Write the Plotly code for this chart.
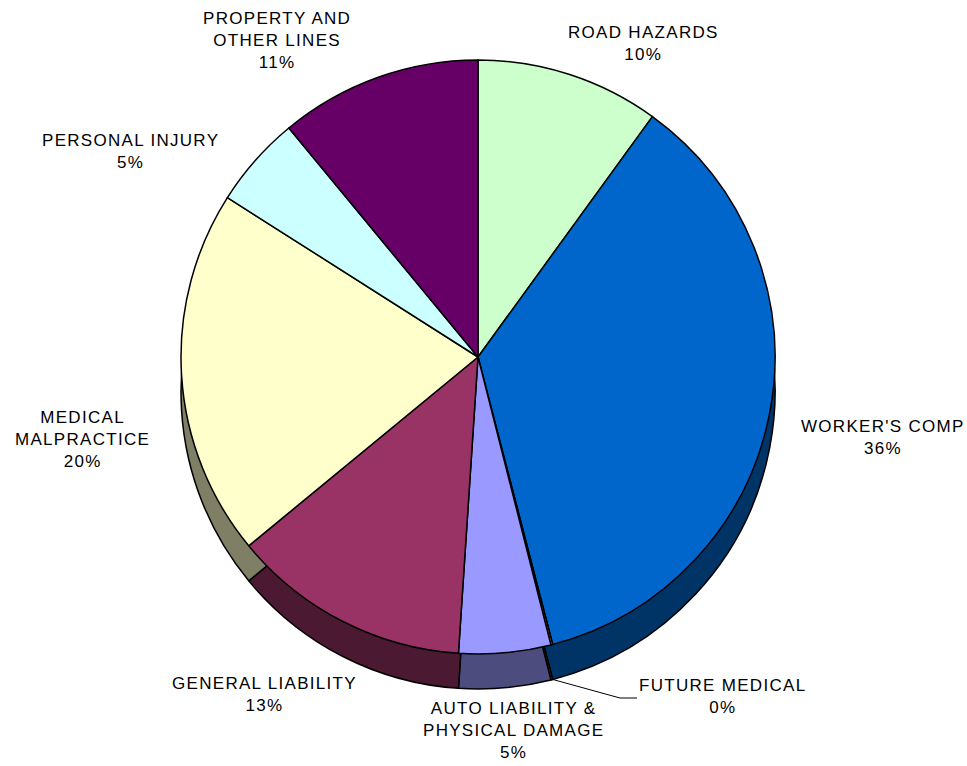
import math
import plotly.graph_objects as go

# ---- data ----
categories = ["ROAD HAZARDS", "WORKER'S COMP", "FUTURE MEDICAL",
              "AUTO LIABILITY &<br>PHYSICAL DAMAGE", "GENERAL LIABILITY",
              "MEDICAL<br>MALPRACTICE", "PERSONAL INJURY",
              "PROPERTY AND<br>OTHER LINES"]
values = [10, 36, 0.1, 5, 13, 20, 5, 11]
pct_labels = ["10%", "36%", "0%", "5%", "13%", "20%", "5%", "11%"]

# ---- styles ----
colors = ["#CCFFCC", "#0066CC", "#FF8080", "#9999FF", "#993366",
          "#FFFFCC", "#CCFFFF", "#660066"]


def darken(h):
    h = h.lstrip("#")
    r, g, b = (int(h[i:i + 2], 16) // 2 for i in (0, 2, 4))
    return f"#{r:02X}{g:02X}{b:02X}"


dark_colors = [darken(c) for c in colors]

W, H = 967, 766
cx, cy, R, depth = 478, 357, 297, 35


def dom(cy_):
    return dict(x=[(cx - R) / W, (cx + R) / W],
                y=[1 - (cy_ + R) / H, 1 - (cy_ - R) / H])


fig = go.Figure()
# side wall (3D depth)
fig.add_trace(go.Pie(values=values, labels=categories, sort=False,
                     direction="clockwise", rotation=0,
                     marker=dict(colors=dark_colors,
                                 line=dict(color="black", width=1.5)),
                     textinfo="none", hoverinfo="skip",
                     domain=dom(cy + depth), showlegend=False))
# top face
fig.add_trace(go.Pie(values=values, labels=categories, sort=False,
                     direction="clockwise", rotation=0,
                     marker=dict(colors=colors,
                                 line=dict(color="black", width=1.5)),
                     textinfo="none",
                     domain=dom(cy), showlegend=False))

# label positions (pixel centers)
label_pos = [(643, 43), (883, 437), (722, 696), (513, 730),
             (264, 694), (82, 439), (130, 151), (277, 40)]


def spaced(t):
    return "<br>".join(f'<span style="letter-spacing:1.3px">{p}</span>'
                       for p in t.split("<br>"))


for cat, pct, (px, py) in zip(categories, pct_labels, label_pos):
    fig.add_annotation(x=px / W, y=1 - py / H, xref="paper", yref="paper",
                       text=spaced(f"{cat}<br>{pct}"), showarrow=False,
                       xanchor="center", yanchor="middle", align="center",
                       font=dict(family="Liberation Sans, Arial, sans-serif",
                                 size=17, color="black"))

# leader line for the tiny slice (starts at bottom of the wall at its edge)
ang = 2 * math.pi * (values[0] + values[1]) / sum(values)
sx = cx + R * math.sin(ang)
sy = cy - R * math.cos(ang) + depth
fig.add_shape(type="path", xref="paper", yref="paper",
              path=f"M {sx/W},{1-sy/H} L {620/W},{1-698/H} L {637/W},{1-698/H}",
              line=dict(color="black", width=1))

fig.update_layout(width=W, height=H,
                  margin=dict(l=0, r=0, t=0, b=0),
                  paper_bgcolor="white", plot_bgcolor="white",
                  showlegend=False)

fig.write_html("out.html", config={"displayModeBar": False},
               post_script="document.body.style.margin='0';")
